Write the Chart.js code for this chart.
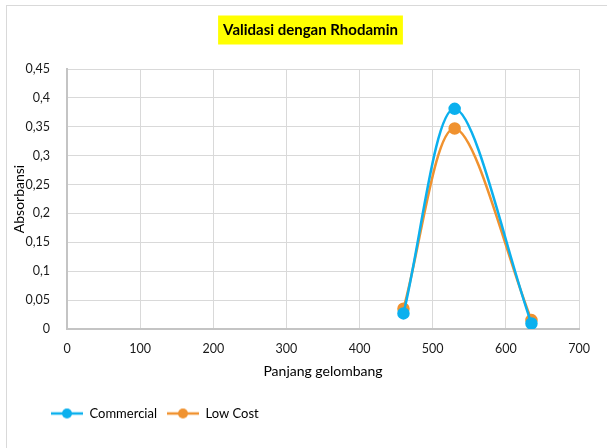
<!DOCTYPE html>
<html>
<head>
<meta charset="utf-8">
<script src="https://cdn.jsdelivr.net/npm/chart.js@4.4.0/dist/chart.umd.min.js"></script>
<style>
  html, body { margin: 0; padding: 0; background: #fff; overflow: hidden; }
  #wrap { position: relative; width: 607px; height: 448px; }
  #frame { position: absolute; left: 6px; top: 5px; width: 700px; height: 600px;
           border: 1px solid #d9d9d9; box-sizing: border-box; pointer-events: none; }
</style>
</head>
<body>
<div id="wrap">
  <canvas id="chart" width="607" height="448"></canvas>
  <div id="frame"></div>
</div>
<script>
// Wavelengths (nm) and measured absorbance for each instrument
const wavelengths = [460, 530, 635];
const commercial  = [0.027, 0.381, 0.0095];
const lowCost     = [0.035, 0.347, 0.0155];

const seriesNames = ['Commercial', 'Low Cost'];
const xTickLabels = ['0', '100', '200', '300', '400', '500', '600', '700'];
const yTickLabels = ['0', '0,05', '0,1', '0,15', '0,2', '0,25', '0,3', '0,35', '0,4', '0,45'];

const chartTitle = 'Validasi dengan Rhodamin';
const xTitle = 'Panjang gelombang';
const yTitle = 'Absorbansi';

const BLUE = '#0bb0ee';
const ORANGE = '#f0922f';
const FONT = 'Lato, "Open Sans", sans-serif';

// Legend marker: short line with a dot in the middle
function legendIcon(color) {
  const c = document.createElement('canvas');
  c.width = 32; c.height = 12;
  const g = c.getContext('2d');
  g.strokeStyle = color; g.lineWidth = 2.5;
  g.beginPath(); g.moveTo(0, 6); g.lineTo(32, 6); g.stroke();
  g.fillStyle = color;
  g.beginPath(); g.arc(16, 6, 5, 0, Math.PI * 2); g.fill();
  return c;
}

function toPoints(values) {
  return wavelengths.map((x, i) => ({ x: x, y: values[i] }));
}

// Yellow highlight behind the chart title
const titleHighlight = {
  id: 'titleHighlight',
  beforeDraw(chart) {
    const t = chart.titleBlock;
    if (!t) return;
    const ctx = chart.ctx;
    const font = chart.options.plugins.title.font;
    ctx.save();
    ctx.font = `bold ${font.size}px ${FONT}`;
    const w = ctx.measureText(chartTitle).width;
    const pad = chart.options.plugins.title.padding;
    const cy = t.top + pad.top + font.size * 1.2 / 2;
    const cx = (t.left + t.right) / 2;
    ctx.fillStyle = '#ffff00';
    ctx.fillRect(cx - w / 2 - 5, cy - 14.5, w + 10, 29);
    ctx.restore();
  }
};

// Title centred over the full chart frame; legend row under the left part of the plot
const blockOffsets = {
  id: 'blockOffsets',
  afterLayout(chart) {
    const t = chart.titleBlock;
    t.left += 17; t.right += 17;
    const l = chart.legend;
    l.left += 33; l.right += 33;
    l.top += 11; l.bottom += 11;
  }
};

new Chart(document.getElementById('chart'), {
  type: 'scatter',
  data: {
    datasets: [
      {
        label: seriesNames[0],
        data: toPoints(commercial),
        showLine: true,
        tension: 0.32,
        borderColor: BLUE,
        backgroundColor: BLUE,
        borderWidth: 2.5,
        pointRadius: 5,
        pointHoverRadius: 5,
        pointStyle: 'circle'
      },
      {
        label: seriesNames[1],
        data: toPoints(lowCost),
        showLine: true,
        tension: 0.32,
        borderColor: ORANGE,
        backgroundColor: ORANGE,
        borderWidth: 2.5,
        pointRadius: 5,
        pointHoverRadius: 5,
        pointStyle: 'circle'
      }
    ]
  },
  options: {
    responsive: false,
    animation: false,
    layout: { padding: { left: 8, right: 28, top: 12, bottom: 29 } },
    plugins: {
      tooltip: { enabled: false },
      title: {
        display: true,
        text: chartTitle,
        color: '#000',
        font: { family: FONT, size: 15, weight: 'bold' },
        padding: { top: 9, bottom: 30 }
      },
      legend: {
        display: true,
        position: 'bottom',
        align: 'start',
        labels: {
          usePointStyle: true,
          pointStyleWidth: 32,
          padding: 10,
          color: '#000',
          font: { family: FONT, size: 13 },
          generateLabels(chart) {
            return chart.data.datasets.map((ds, i) => ({
              text: ds.label,
              pointStyle: legendIcon(ds.borderColor),
              fillStyle: ds.borderColor,
              strokeStyle: ds.borderColor,
              lineWidth: 0,
              hidden: false,
              datasetIndex: i,
              fontColor: '#000'
            }));
          }
        }
      }
    },
    scales: {
      x: {
        type: 'linear',
        min: 0,
        max: 700,
        afterFit(scale) { scale.height = 57; },
        ticks: {
          stepSize: 100,
          padding: 12,
          color: '#1a1a1a',
          font: { family: FONT, size: 12.5 },
          callback: (v, i) => xTickLabels[i]
        },
        grid: { color: '#d9d9d9', lineWidth: 1, drawTicks: false },
        border: { color: '#c4c4c4', width: 2 },
        title: {
          display: true,
          text: xTitle,
          color: '#000',
          font: { family: FONT, size: 14 },
          padding: { top: 0, bottom: 6 }
        }
      },
      y: {
        type: 'linear',
        min: 0,
        max: 0.45,
        afterFit(scale) { scale.width = 59; },
        ticks: {
          stepSize: 0.05,
          padding: 17,
          color: '#1a1a1a',
          font: { family: FONT, size: 12.5 },
          callback: (v, i) => yTickLabels[i]
        },
        grid: { color: '#d9d9d9', lineWidth: 1, drawTicks: false },
        border: { color: '#c4c4c4', width: 2 },
        title: {
          display: true,
          text: yTitle,
          color: '#000',
          font: { family: FONT, size: 14 },
          padding: { top: 3, bottom: 0 }
        }
      }
    }
  },
  plugins: [titleHighlight, blockOffsets]
});
</script>
</body>
</html>
